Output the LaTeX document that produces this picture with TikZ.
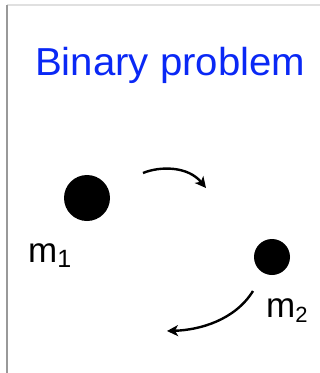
\documentclass[tikz,border=0pt]{standalone}
\usepackage{fontspec}
\setmainfont{Liberation Sans}
\usetikzlibrary{arrows.meta}
\definecolor{titleblue}{HTML}{0A28F5}
\begin{document}
\begin{tikzpicture}[x=1pt,y=-1pt,
  body/.style={circle,fill=black,inner sep=0pt},
  orbit/.style={line width=2.4pt,-{Stealth[length=11pt,width=11pt,inset=3pt]}},
  masslabel/.style={inner sep=0pt,anchor=base west}]
\useasboundingbox (0,0) rectangle (320,373);
\draw[line width=1.2pt,color=black!12] (7,5) -- (320,5);
\draw[line width=1.2pt,color=black!40] (7,5) -- (7,373);
\node[anchor=base west,inner sep=0pt,text=titleblue,xscale=1.03] (title) at (35,75) {\fontsize{39}{44}\selectfont Binary problem};
\node[body,minimum size=46pt] (m1) at (87,198) {};
\node[body,minimum size=36pt] (m2) at (272,257) {};
\node[masslabel] (l1) at (28,262) {\fontsize{35}{40}\selectfont m\raisebox{-5pt}{\fontsize{25}{28}\selectfont 1}};
\node[masslabel] (l2) at (266,317) {\fontsize{35}{40}\selectfont m\raisebox{-5pt}{\fontsize{22}{25}\selectfont 2}};
\coordinate (a1s) at (143,173);
\coordinate (a1e) at (206,188);
\coordinate (a2s) at (253,291);
\coordinate (a2e) at (167,331);
\draw[orbit] (a1s) .. controls (160,166) and (188,166) .. (a1e);
\draw[orbit] (a2s) .. controls (235,320) and (200,330) .. (a2e);
\end{tikzpicture}
\end{document}
